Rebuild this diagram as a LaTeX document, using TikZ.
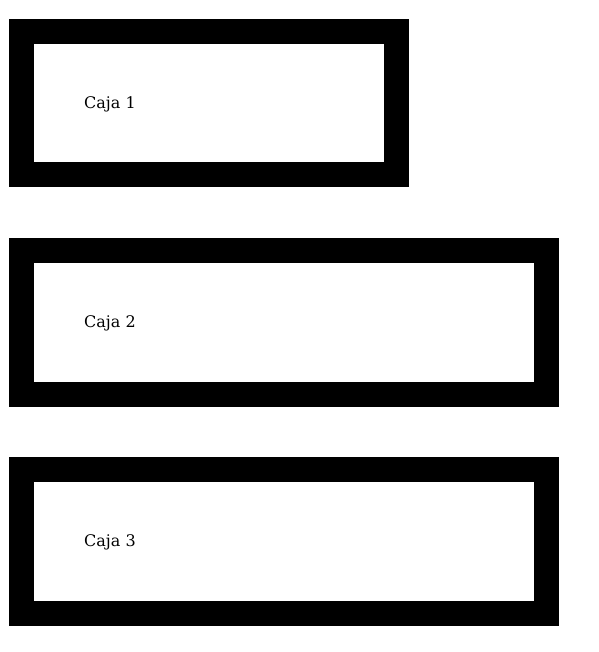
\documentclass[tikz,border=0pt]{standalone}
\usepackage{fontspec}
\setmainfont{DejaVu Serif}
\begin{document}
\begin{tikzpicture}[x=1pt,y=-1pt,
  caja/.style={draw=black,line width=25pt,fill=white},
  etiqueta/.style={anchor=west,inner sep=0pt,font=\fontsize{16pt}{18pt}\selectfont}]
\useasboundingbox (0,0) rectangle (598,652);
\draw[caja] (21.5,31.5) rectangle (396.5,174.5);
\draw[caja] (21.5,250.5) rectangle (546,394);
\draw[caja] (21.5,469.5) rectangle (546,613);
\node[etiqueta] (c1) at (84,104.5) {Caja 1};
\node[etiqueta] (c2) at (84,323.5) {Caja 2};
\node[etiqueta] (c3) at (84,542.5) {Caja 3};
\end{tikzpicture}
\end{document}
